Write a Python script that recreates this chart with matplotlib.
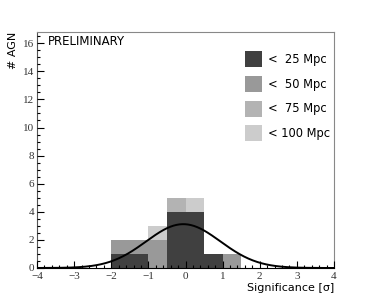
import numpy as np
import matplotlib.pyplot as plt
from matplotlib.ticker import MultipleLocator

# histogram contents (bin width 0.5), stacked by distance
bin_left = [-2.0, -1.5, -1.0, -0.5, 0.0, 0.5, 1.0]
n_25 = [1, 1, 0, 4, 4, 1, 0]
n_50 = [1, 1, 2, 0, 0, 0, 1]
n_75 = [0, 0, 0, 1, 0, 0, 0]
n_100 = [0, 0, 1, 0, 1, 0, 0]
labels = ['<  25 Mpc', '<  50 Mpc', '<  75 Mpc', '< 100 Mpc']
colors = ['#404040', '#999999', '#b3b3b3', '#cccccc']

# gaussian fit
gaus_const = 3.12
gaus_mean = -0.06
gaus_sigma = 1.0

fig = plt.figure(figsize=(3.74, 2.98), dpi=100)
ax = fig.add_axes([0.099, 0.1007, 0.794, 0.792])

bottom = np.zeros(len(bin_left))
for counts, col, lab in zip([n_25, n_50, n_75, n_100], colors, labels):
	ax.bar(bin_left, counts, width=0.5, align='edge', bottom=bottom, color=col, linewidth=0, label=lab)
	bottom += np.array(counts)

x = np.linspace(-4, 4, 400)
ax.plot(x, gaus_const*np.exp(-0.5*((x-gaus_mean)/gaus_sigma)**2), color='black', lw=1.4, zorder=3)

ax.set_xlim(-4, 4)
ax.set_ylim(0, 16.8)
ax.xaxis.set_major_locator(MultipleLocator(1))
ax.xaxis.set_minor_locator(MultipleLocator(0.2))
ax.yaxis.set_major_locator(MultipleLocator(2))
ax.yaxis.set_minor_locator(MultipleLocator(0.5))
ax.tick_params(which='both', direction='in', top=False, right=False, width=0.8, color='black', zorder=5)
ax.tick_params(which='major', length=5)
ax.tick_params(which='minor', length=2.5)
ax.tick_params(axis='x', pad=3)
ax.tick_params(axis='y', pad=2)
ax.set_axisbelow(False)
for lab in ax.get_xticklabels() + ax.get_yticklabels():
	lab.set_family('Liberation Serif')
	lab.set_fontsize(8)
	lab.set_color('#333333')
for side in ['top', 'right']:
	ax.spines[side].set_color('#888888')
	ax.spines[side].set_linewidth(0.8)
ax.spines['left'].set_color('#555555')
ax.spines['bottom'].set_color('black')

ax.text(0.038, 0.958, 'PRELIMINARY', transform=ax.transAxes, fontsize=8.5, va='center', ha='left')
ax.legend(loc='upper right', bbox_to_anchor=(1.008, 0.942), frameon=False, fontsize=8.3,
	handlelength=1.4, handleheight=1.75, labelspacing=0.75, handletextpad=0.6, borderaxespad=0.1)

fig.text(0.893, 0.022, 'Significance [σ]', ha='right', fontsize=8)
fig.text(0.035, 0.892, '# AGN', rotation=90, ha='center', va='top', fontsize=8)

fig.savefig('out.png', dpi=100)
